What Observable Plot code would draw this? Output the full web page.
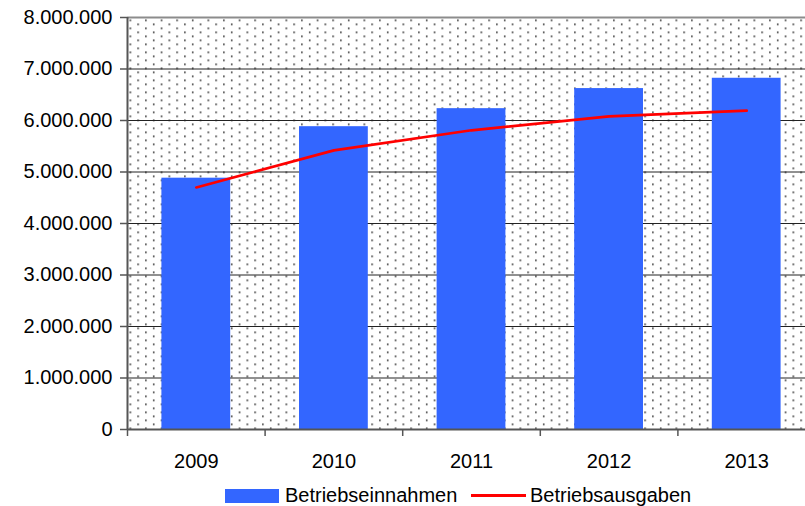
<!DOCTYPE html>
<html>
<head>
<meta charset="utf-8">
<script src="https://cdn.jsdelivr.net/npm/d3@7"></script>
<script src="https://cdn.jsdelivr.net/npm/@observablehq/plot@0.6"></script>
<style>
  html, body { margin: 0; padding: 0; background: white; overflow: hidden; }
  #chart { width: 805px; position: relative; font-family: "Liberation Sans", Arial, sans-serif; }
  #legend { position: relative; width: 805px; height: 26px; font-size: 20px; line-height: 20px; color: black; }
  #legend .sw { position: absolute; }
  #legend .lb { position: absolute; top: 5px; white-space: nowrap; }
</style>
</head>
<body>
<div id="chart"></div>
<script>
const years = [2009, 2010, 2011, 2012, 2013];
const einnahmen = [4880000, 5880000, 6230000, 6620000, 6820000];
const ausgaben = [4700000, 5420000, 5810000, 6080000, 6190000];
const yTicks = [0, 1000000, 2000000, 3000000, 4000000, 5000000, 6000000, 7000000, 8000000];
const seriesNames = ["Betriebseinnahmen", "Betriebsausgaben"];
const colors = ["#3366ff", "#ff0000"];

const data = years.map((year, i) => ({year, einnahmen: einnahmen[i], ausgaben: ausgaben[i]}));
const boundaries = years.map(y => y - 0.5).concat([years[years.length - 1] + 0.5]);
const de = d3.formatLocale({decimal: ",", thousands: ".", grouping: [3], currency: ["", " €"]});
const fmt = de.format(",d");

const plot = Plot.plot({
  width: 805,
  height: 480,
  marginLeft: 127,
  marginRight: -10,
  marginTop: 17,
  marginBottom: 51,
  style: {fontFamily: "'Liberation Sans', Arial, sans-serif", fontSize: "20px", color: "black", background: "white", overflow: "visible"},
  x: {domain: [boundaries[0], boundaries[boundaries.length - 1]], label: null},
  y: {domain: [0, yTicks[yTicks.length - 1]], label: null},
  marks: [
    Plot.frame({fill: "url(#dots)", stroke: "none"}),
    Plot.ruleY(yTicks.slice(1, -1), {stroke: "#222", strokeWidth: 1}),
    Plot.rectY(data, {x1: d => d.year - 0.25, x2: d => d.year + 0.25, y: "einnahmen", fill: colors[0]}),
    Plot.line(data, {x: "year", y: "ausgaben", stroke: colors[1], strokeWidth: 2.7}),
    Plot.ruleY([yTicks[yTicks.length - 1]], {stroke: "#8c8c8c", strokeWidth: 2}),
    Plot.ruleX([boundaries[0]], {stroke: "#555", strokeWidth: 2}),
    Plot.ruleY([0], {stroke: "#555", strokeWidth: 2}),
    Plot.axisY({ticks: yTicks, tickFormat: fmt, tickSize: 7, tickPadding: 8, stroke: "#555", strokeWidth: 1.5, label: null}),
    Plot.axisX({ticks: years, tickFormat: d => String(d), tickSize: 0, tickPadding: 24, label: null}),
    Plot.axisX({ticks: boundaries, tickFormat: () => "", tickSize: 7, stroke: "#555", strokeWidth: 1.5, label: null})
  ]
});

const svg = d3.select(plot);
const defs = svg.insert("defs", ":first-child");
const pat = defs.append("pattern")
  .attr("id", "dots")
  .attr("patternUnits", "userSpaceOnUse")
  .attr("width", 15.6).attr("height", 8)
  .attr("x", 129).attr("y", 19);
pat.append("rect").attr("width", 15.6).attr("height", 8).attr("fill", "white");
pat.append("rect").attr("x", 0).attr("y", 0).attr("width", 1.6).attr("height", 1.6).attr("fill", "#333");
pat.append("rect").attr("x", 7.8).attr("y", 4).attr("width", 1.6).attr("height", 1.6).attr("fill", "#333");

const chart = document.getElementById("chart");
chart.appendChild(plot);

const legend = document.createElement("div");
legend.id = "legend";
legend.innerHTML = `
  <div class="sw" style="left:225px;top:9px;width:54px;height:14px;background:${colors[0]}"></div>
  <div class="lb" style="left:285px">${seriesNames[0]}</div>
  <div class="sw" style="left:471px;top:14px;width:55px;height:3px;background:${colors[1]}"></div>
  <div class="lb" style="left:530px">${seriesNames[1]}</div>
`;
chart.appendChild(legend);
</script>
</body>
</html>
